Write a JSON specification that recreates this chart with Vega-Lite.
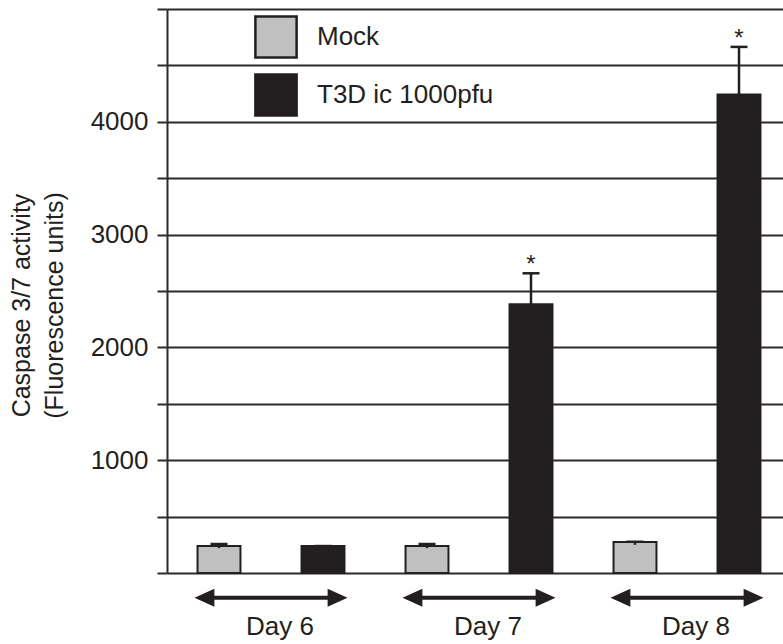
{
  "$schema": "https://vega.github.io/schema/vega-lite/v6.json",
  "width": 616,
  "height": 564,
  "autosize": {"type": "none"},
  "padding": {"left": 167, "top": 9, "right": 0, "bottom": 71},
  "background": "white",
  "config": {
    "view": {"stroke": null},
    "font": "Liberation Sans",
    "legend": {
      "orient": "none",
      "legendX": 87,
      "legendY": 6,
      "padding": 0,
      "symbolType": "square",
      "symbolSize": 1700,
      "symbolStrokeColor": "#231f20",
      "symbolStrokeWidth": 2.5,
      "symbolOpacity": 1,
      "labelFontSize": 26,
      "labelFont": "Liberation Sans",
      "labelColor": "#231f20",
      "labelOffset": 19,
      "labelLimit": 400,
      "rowPadding": 6,
      "title": null
    }
  },
  "data": {
    "values": [
      {"day": "Day 6", "group": "Mock", "value": 239, "lower": 221, "upper": 257, "sig": false},
      {"day": "Day 6", "group": "T3D ic 1000pfu", "value": 239, "lower": 239, "upper": 239, "sig": false},
      {"day": "Day 7", "group": "Mock", "value": 239, "lower": 221, "upper": 257, "sig": false},
      {"day": "Day 7", "group": "T3D ic 1000pfu", "value": 2383, "lower": 2109, "upper": 2657, "sig": true},
      {"day": "Day 8", "group": "Mock", "value": 275, "lower": 250, "upper": 277, "sig": false},
      {"day": "Day 8", "group": "T3D ic 1000pfu", "value": 4243, "lower": 3822, "upper": 4664, "sig": true}
    ]
  },
  "encoding": {
    "x": {
      "field": "day",
      "type": "nominal",
      "scale": {"range": [0, 624], "paddingInner": 0, "paddingOuter": 0},
      "axis": {
        "title": null,
        "domain": false,
        "ticks": false,
        "tickSize": 0,
        "grid": false,
        "labelAngle": 0,
        "labelFontSize": 26,
        "labelFont": "Liberation Sans",
        "labelColor": "#231f20",
        "labelPadding": 40,
        "labelOffset": 9
      }
    }
  },
  "layer": [
    {
      "mark": {"type": "bar", "stroke": "#231f20", "strokeWidth": 2},
      "encoding": {
        "xOffset": {
          "field": "group",
          "type": "nominal",
          "scale": {"paddingInner": 0.587, "paddingOuter": 0.2935}
        },
        "y": {
          "field": "value",
          "type": "quantitative",
          "scale": {"domain": [0, 5000], "nice": false, "zero": true},
          "axis": {
            "values": [0, 500, 1000, 1500, 2000, 2500, 3000, 3500, 4000, 4500, 5000],
            "format": "d",
            "labelExpr": "(datum.value % 1000 === 0 && datum.value > 0 && datum.value < 5000) ? datum.label : ''",
            "grid": true,
            "gridColor": "#2b2b2b",
            "gridWidth": 2,
            "gridOpacity": 1,
            "tickSize": 10,
            "tickWidth": 2,
            "tickColor": "#2b2b2b",
            "domainColor": "#2b2b2b",
            "domainWidth": 2,
            "labelFontSize": 26,
            "labelFont": "Liberation Sans",
            "labelColor": "#231f20",
            "labelPadding": 9,
            "title": ["Caspase 3/7 activity", "(Fluorescence units)"],
            "titleFontSize": 25,
            "titleFont": "Liberation Sans",
            "titleFontWeight": "normal",
            "titleColor": "#231f20",
            "titleLineHeight": 33,
            "titleX": -133,
            "titleY": 296
          }
        },
        "fill": {
          "field": "group",
          "type": "nominal",
          "scale": {"domain": ["Mock", "T3D ic 1000pfu"], "range": ["#c0c0c0", "#231f20"]}
        }
      }
    },
    {
      "mark": {"type": "rule", "color": "#231f20", "strokeWidth": 2.5},
      "encoding": {
        "xOffset": {"field": "group", "type": "nominal"},
        "y": {"field": "lower", "type": "quantitative"},
        "y2": {"field": "upper"}
      }
    },
    {
      "mark": {"type": "tick", "orient": "horizontal", "color": "#231f20", "size": 17, "thickness": 2.5, "opacity": 1},
      "encoding": {
        "xOffset": {"field": "group", "type": "nominal"},
        "y": {"field": "upper", "type": "quantitative"}
      }
    },
    {
      "transform": [{"filter": "datum.sig"}],
      "mark": {"type": "text", "text": "*", "fontSize": 24, "font": "Liberation Sans", "color": "#231f20", "baseline": "alphabetic", "dy": -1},
      "encoding": {
        "xOffset": {"field": "group", "type": "nominal"},
        "y": {"field": "upper", "type": "quantitative"}
      }
    },
    {
      "transform": [{"filter": "datum.group === 'Mock'"}],
      "mark": {
        "type": "point",
        "filled": true,
        "opacity": 1,
        "color": "#231f20",
        "size": 23409,
        "shape": "M-1,0L-0.74,-0.118L-0.74,-0.026L0.74,-0.026L0.74,-0.118L1,0L0.74,0.118L0.74,0.026L-0.74,0.026L-0.74,0.118Z"
      },
      "encoding": {
        "y": {"datum": -220, "type": "quantitative"}
      }
    }
  ]
}
